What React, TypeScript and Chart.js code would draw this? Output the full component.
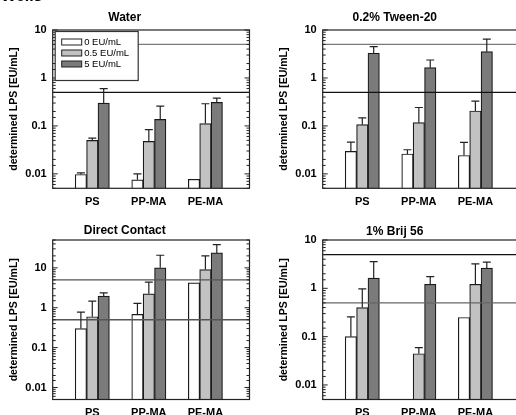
import React, { useEffect, useRef } from "react";
import { Chart, registerables } from "chart.js";

Chart.register(...registerables);

// ---------- data ----------
const categories = ["PS", "PP-MA", "PE-MA"];
const categoryPositions = [1, 2, 3];
const seriesLabels = ["0 EU/mL", "0.5 EU/mL", "5 EU/mL"];
const referenceLevels = [5, 0.5];
const yAxisTitle = "determined LPS [EU/mL]";
const figureLabel = "Wells";

const panelTitles = ["Water", "0.2% Tween-20", "Direct Contact", "1% Brij 56"];

const waterZero = [0.0097, 0.0075, 0.0077];
const waterHalf = [0.05, 0.0475, 0.112];
const waterFive = [0.3, 0.137, 0.31];
const waterZeroErr = [0.0105, 0.01, null];
const waterHalfErr = [0.0557, 0.0835, 0.29];
const waterFiveErr = [0.6, 0.258, 0.38];

const tweenZero = [0.0294, 0.026, 0.0242];
const tweenHalf = [0.106, 0.117, 0.205];
const tweenFive = [3.28, 1.64, 3.54];
const tweenZeroErr = [0.046, 0.0318, 0.0453];
const tweenHalfErr = [0.147, 0.242, 0.328];
const tweenFiveErr = [4.5, 2.37, 6.45];

const directZero = [0.3, 0.68, 4.2];
const directHalf = [0.595, 2.24, 9.07];
const directFive = [1.95, 10, 23.7];
const directZeroErr = [0.776, 1.28, null];
const directHalfErr = [1.46, 4.37, 20];
const directFiveErr = [2.37, 20.7, 38.3];

const brijZero = [0.1, null, 0.249];
const brijHalf = [0.4, 0.0443, 1.21];
const brijFive = [1.62, 1.21, 2.61];
const brijZeroErr = [0.256, null, null];
const brijHalfErr = [0.97, 0.059, 3.2];
const brijFiveErr = [3.58, 1.75, 3.5];

const yMin = 0.005;
const yMaxes = [10, 10, 50, 10];

// ---------- styles ----------
const FONT = '"Liberation Sans", Arial, Helvetica, sans-serif';
const barColors = ["#ffffff", "#c2c2c2", "#7b7b7b"];

type Panel = {
  title: string;
  series: (number | null)[][];
  errs: (number | null)[][];
  yMax: number;
  left: number;
  top: number;
  height: number;
  titlePadTop: number;
  titlePadBottom: number;
  xAxisHeight: number;
  levelColors: string[];
  legend: boolean;
  rightTicks: boolean;
};

const panels: Panel[] = [
  {
    title: panelTitles[0],
    series: [waterZero, waterHalf, waterFive],
    errs: [waterZeroErr, waterHalfErr, waterFiveErr],
    yMax: yMaxes[0],
    left: 0,
    top: 0,
    height: 207,
    titlePadTop: 10.5,
    titlePadBottom: 5.1,
    xAxisHeight: 18.7,
    levelColors: ["#7a7a7a", "#111111"],
    legend: true,
    rightTicks: true,
  },
  {
    title: panelTitles[1],
    series: [tweenZero, tweenHalf, tweenFive],
    errs: [tweenZeroErr, tweenHalfErr, tweenFiveErr],
    yMax: yMaxes[1],
    left: 270,
    top: 0,
    height: 207,
    titlePadTop: 10.5,
    titlePadBottom: 5.1,
    xAxisHeight: 18.7,
    levelColors: ["#7a7a7a", "#111111"],
    legend: false,
    rightTicks: false,
  },
  {
    title: panelTitles[2],
    series: [directZero, directHalf, directFive],
    errs: [directZeroErr, directHalfErr, directFiveErr],
    yMax: yMaxes[2],
    left: 0,
    top: 207,
    height: 208,
    titlePadTop: 16.8,
    titlePadBottom: 1.8,
    xAxisHeight: 15.5,
    levelColors: ["#555555", "#555555"],
    legend: false,
    rightTicks: true,
  },
  {
    title: panelTitles[3],
    series: [brijZero, brijHalf, brijFive],
    errs: [brijZeroErr, brijHalfErr, brijFiveErr],
    yMax: yMaxes[3],
    left: 270,
    top: 207,
    height: 208,
    titlePadTop: 17.5,
    titlePadBottom: 1.1,
    xAxisHeight: 15.5,
    levelColors: ["#111111", "#666666"],
    legend: false,
    rightTicks: false,
  },
];

const CANVAS_W = 258;

function isPow10(v: number) {
  const l = Math.log10(v);
  return Math.abs(l - Math.round(l)) < 1e-9;
}

const decoPlugin = {
  id: "panelDeco",
  afterDatasetsDraw(chart: any, _args: any, opts: any) {
    const { ctx, chartArea: a, scales } = chart;
    const y = scales.y;
    ctx.save();

    // reference lines
    referenceLevels.forEach((lv, i) => {
      const py = y.getPixelForValue(lv);
      ctx.strokeStyle = opts.levelColors[i];
      ctx.lineWidth = 1.3;
      ctx.beginPath();
      ctx.moveTo(a.left, py);
      ctx.lineTo(a.right, py);
      ctx.stroke();
    });

    // error bars (upper only)
    chart.data.datasets.forEach((ds: any, di: number) => {
      const meta = chart.getDatasetMeta(di);
      meta.data.forEach((el: any, i: number) => {
        const e = ds.errHigh[i];
        const v = ds.data[i].y;
        if (e == null || v == null) return;
        const top = y.getPixelForValue(e);
        ctx.strokeStyle = "#222";
        ctx.lineWidth = 1.2;
        ctx.beginPath();
        ctx.moveTo(el.x, el.y);
        ctx.lineTo(el.x, top);
        ctx.moveTo(el.x - 4, top);
        ctx.lineTo(el.x + 4, top);
        ctx.stroke();
      });
    });

    // frame
    ctx.strokeStyle = "#222";
    ctx.lineWidth = 1.2;
    ctx.strokeRect(a.left, a.top, a.right - a.left, a.bottom - a.top);

    // inner ticks
    ctx.lineWidth = 1;
    y.ticks.forEach((t: any) => {
      const v = t.value;
      if (v < y.min || v > y.max) return;
      const py = y.getPixelForValue(v);
      const len = isPow10(v) ? 5 : 3;
      ctx.beginPath();
      ctx.moveTo(a.left, py);
      ctx.lineTo(a.left + len, py);
      if (opts.rightTicks) {
        ctx.moveTo(a.right, py);
        ctx.lineTo(a.right - len, py);
      }
      ctx.stroke();
    });

    // legend
    if (opts.legend) {
      const bx = a.left + 2.5;
      const by = a.top + 1.5;
      ctx.fillStyle = "#fff";
      ctx.fillRect(bx, by, 83, 49);
      ctx.strokeStyle = "#333";
      ctx.lineWidth = 1.2;
      ctx.strokeRect(bx, by, 83, 49);
      ctx.font = `9.5px ${FONT}`;
      ctx.textBaseline = "middle";
      ctx.textAlign = "left";
      chart.data.datasets.forEach((ds: any, i: number) => {
        const cy = a.top + 12 + i * 11;
        ctx.fillStyle = ds.backgroundColor;
        ctx.fillRect(a.left + 9, cy - 3, 20, 6);
        ctx.strokeStyle = "#222";
        ctx.lineWidth = 1;
        ctx.strokeRect(a.left + 9, cy - 3, 20, 6);
        ctx.fillStyle = "#000";
        ctx.fillText(ds.label, a.left + 31.5, cy + 0.5);
      });
    }
    ctx.restore();
  },
};

function PanelChart({ p }: { p: Panel }) {
  const ref = useRef<HTMLCanvasElement | null>(null);
  useEffect(() => {
    if (!ref.current) return;
    Chart.defaults.font.family = FONT;
    const chart = new Chart(ref.current, {
      type: "bar",
      data: {
        datasets: p.series.map((vals, si) => ({
          label: seriesLabels[si],
          data: vals.map((v, i) => ({ x: categoryPositions[i], y: v })),
          errHigh: p.errs[si],
          backgroundColor: barColors[si],
          borderColor: "#1a1a1a",
          borderWidth: 1.2,
          barThickness: 11.4,
        })) as any,
      },
      options: {
        responsive: false,
        animation: false,
        layout: { padding: { left: 0, right: 8.5, top: 0, bottom: 0 } },
        plugins: {
          legend: { display: false },
          tooltip: { enabled: false },
          title: {
            display: true,
            text: p.title,
            color: "#000",
            font: { size: 12, weight: "bold", family: FONT },
            padding: { top: p.titlePadTop, bottom: p.titlePadBottom },
          },
          panelDeco: {
            levelColors: p.levelColors,
            legend: p.legend,
            rightTicks: p.rightTicks,
          },
        } as any,
        scales: {
          x: {
            type: "linear",
            min: 0.3,
            max: 3.78,
            offset: false,
            grid: { display: false, drawTicks: false },
            border: { display: false },
            afterBuildTicks: (s: any) => {
              s.ticks = categoryPositions.map((v) => ({ value: v }));
            },
            afterFit: (s: any) => {
              s.height = p.xAxisHeight;
            },
            ticks: {
              autoSkip: false,
              maxRotation: 0,
              padding: 7,
              color: "#000",
              font: { size: 11, weight: "bold", family: FONT },
              callback: (v: any) => {
                const idx = categoryPositions.indexOf(Number(v));
                return idx >= 0 ? categories[idx] : "";
              },
            },
          },
          y: {
            type: "logarithmic",
            min: yMin,
            max: p.yMax,
            grid: { display: false, drawTicks: false },
            border: { display: false },
            afterFit: (s: any) => {
              s.width = 52.7;
            },
            title: {
              display: true,
              text: yAxisTitle,
              color: "#000",
              font: { size: 10.5, weight: "bold", family: FONT },
              padding: { top: 7.7, bottom: 0 },
            },
            ticks: {
              autoSkip: false,
              padding: 6,
              color: "#000",
              font: { size: 11, weight: "bold", family: FONT },
              callback: (v: any) => {
                const n = Number(v);
                return isPow10(n) ? String(n) : "";
              },
            },
          },
        } as any,
      },
      plugins: [decoPlugin as any],
    });
    return () => chart.destroy();
  }, [p]);
  return (
    <canvas
      ref={ref}
      width={CANVAS_W}
      height={p.height}
      style={{
        position: "absolute",
        left: p.left,
        top: p.top,
        width: CANVAS_W,
        height: p.height,
      }}
    />
  );
}

export default function App() {
  return (
    <div
      style={{
        position: "fixed",
        left: 0,
        top: 0,
        width: 516,
        height: 415,
        overflow: "hidden",
        background: "#fff",
      }}
    >
      {panels.map((p, i) => (
        <PanelChart key={i} p={p} />
      ))}
      <div
        style={{
          position: "absolute",
          left: 1,
          top: -11.8,
          font: `bold 16px ${FONT}`,
          lineHeight: "16px",
          color: "#000",
          whiteSpace: "nowrap",
        }}
      >
        {figureLabel}
      </div>
    </div>
  );
}
